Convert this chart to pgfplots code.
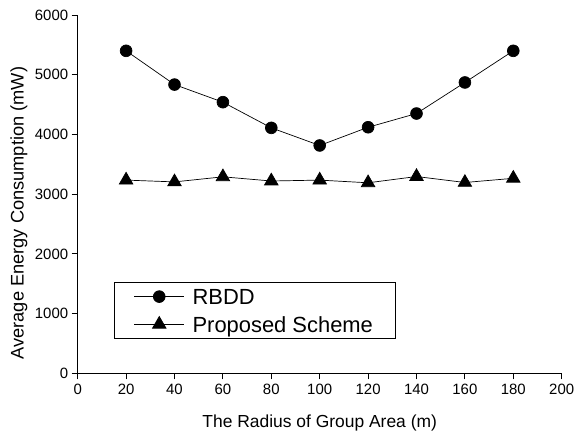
\documentclass[border=0pt]{standalone}
\usepackage{pgfplots}
\pgfplotsset{compat=1.18}
\usepackage{fontspec}
\setmainfont{Liberation Sans}
\begin{document}
\begin{tikzpicture}
\begin{axis}[
  name=ax,
  scale only axis,
  width=484bp, height=358.3bp,
  xmin=0, xmax=200, ymin=0, ymax=6000,
  axis lines=left,
  axis line style={-, line width=0.9pt},
  xtick={0,20,...,200},
  ytick={0,1000,...,6000},
  tick align=outside,
  major tick length=6bp,
  tick style={line width=0.9pt, black},
  /pgf/number format/assume math mode=true,
  /pgf/number format/1000 sep={},
  tick label style={font=\fontsize{15}{17}\selectfont},
  xticklabel style={yshift=-1bp},
  xlabel={The Radius of Group Area (m)},
  ylabel={Average Energy Consumption (mW)},
  xlabel style={font=\fontsize{17.5}{20}\selectfont, at={(axis description cs:0.5,-0.150)}, anchor=base},
  ylabel style={font=\fontsize{18.3}{20}\selectfont, at={(axis description cs:-0.1116,0.447)}, anchor=base, rotate=0},
  legend style={at={(0.074,0.095)}, anchor=south west, draw=black, line width=0.8pt,
    font=\fontsize{22}{25}\selectfont, inner xsep=20bp, inner ysep=6.3bp, row sep=11.2bp,
    nodes={text height=16.5bp, text depth=0bp, inner ysep=0bp}},
  legend cell align=left,
  legend image code/.code={%
    \path (0bp,0bp) (56bp,0bp);
    \draw[#1, mark repeat=2, mark phase=2] plot coordinates {(0bp,0bp) (25bp,0bp) (50bp,0bp)};},
]
\addplot[black, line width=0.7pt, mark=*, mark size=5.9bp, mark options={solid}] coordinates {
(20,5400) (40,4835) (60,4540) (80,4110) (100,3815) (120,4120) (140,4350) (160,4870) (180,5400)};
\addlegendentry{RBDD}
\addplot[black, line width=0.7pt, mark=triangle*, mark size=7.8bp, mark options={solid}] coordinates {
(20,3235) (40,3205) (60,3290) (80,3220) (100,3235) (120,3190) (140,3295) (160,3195) (180,3265)};
\addlegendentry{Proposed Scheme}
\end{axis}
\pgfresetboundingbox
\path[use as bounding box] ([xshift=-77.7bp,yshift=-58.7bp]ax.south west) rectangle ([xshift=14.3bp,yshift=15bp]ax.north east);
\end{tikzpicture}
\end{document}
